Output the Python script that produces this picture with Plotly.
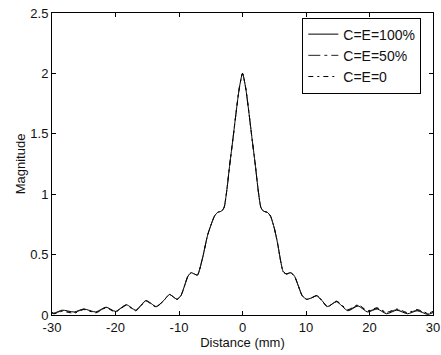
import plotly.graph_objects as go

# Distance (mm)
distance = [-30, -29.7, -28.4, -26.5, -25.0, -23.1, -21.5, -20.0, -18.3, -16.8, -15.2, -13.6,
            -12.4, -11.5, -10.9, -10.3, -9.7, -9.2, -8.6, -8.1, -7.6, -7.1, -6.3, -5.5, -5.0,
            -4.4, -3.9, -3.3, -2.9, -2.5, -2.0, -1.5, -1.0, -0.5, 0.0,
            0.5, 1.0, 1.5, 2.0, 2.5, 2.9, 3.3, 3.9, 4.4, 5.0, 5.5, 6.0, 6.4, 6.9, 7.6, 8.2,
            8.8, 9.4, 10.1, 10.8, 11.7, 12.5, 13.4, 14.8, 16.6, 18.2, 19.7, 21.2, 22.7, 24.3,
            26.0, 27.5, 29.2, 30.0]

mag_100 = [0.02, 0.015, 0.04, 0.025, 0.05, 0.025, 0.065, 0.03, 0.085, 0.04, 0.12, 0.07,
           0.12, 0.17, 0.15, 0.13, 0.16, 0.23, 0.32, 0.35, 0.34, 0.33, 0.47, 0.66, 0.74,
           0.82, 0.85, 0.86, 0.89, 1.02, 1.25, 1.46, 1.68, 1.88, 2.0,
           1.88, 1.68, 1.46, 1.25, 1.02, 0.89, 0.86, 0.85, 0.82, 0.72, 0.6, 0.45, 0.36, 0.34, 0.35, 0.32,
           0.24, 0.16, 0.13, 0.14, 0.16, 0.12, 0.07, 0.11, 0.035, 0.075, 0.025, 0.05, 0.01, 0.04,
           0.01, 0.035, 0.005, 0.02]

mag_50 = [0.02, 0.012, 0.035, 0.02, 0.048, 0.02, 0.062, 0.028, 0.083, 0.038, 0.118, 0.068,
          0.12, 0.17, 0.15, 0.13, 0.16, 0.23, 0.32, 0.35, 0.34, 0.33, 0.47, 0.66, 0.74,
          0.82, 0.85, 0.86, 0.89, 1.02, 1.25, 1.46, 1.68, 1.88, 2.0,
          1.88, 1.68, 1.46, 1.25, 1.02, 0.89, 0.86, 0.85, 0.82, 0.72, 0.6, 0.45, 0.36, 0.34, 0.35, 0.32,
          0.24, 0.16, 0.13, 0.14, 0.16, 0.12, 0.068, 0.112, 0.04, 0.08, 0.03, 0.055, 0.018, 0.045,
          0.015, 0.04, 0.01, 0.025]

mag_0 = [0.018, 0.01, 0.03, 0.015, 0.045, 0.018, 0.06, 0.025, 0.08, 0.035, 0.115, 0.066,
         0.12, 0.17, 0.15, 0.13, 0.16, 0.23, 0.32, 0.35, 0.34, 0.33, 0.47, 0.66, 0.74,
         0.82, 0.85, 0.86, 0.89, 1.02, 1.25, 1.46, 1.68, 1.88, 2.0,
         1.88, 1.68, 1.46, 1.25, 1.02, 0.89, 0.86, 0.85, 0.82, 0.72, 0.6, 0.45, 0.36, 0.34, 0.35, 0.32,
         0.24, 0.16, 0.13, 0.14, 0.16, 0.12, 0.066, 0.115, 0.045, 0.085, 0.035, 0.06, 0.022, 0.05,
         0.02, 0.045, 0.015, 0.03]

series_names = ["C=E=100%", "C=E=50%", "C=E=0"]
x_ticks = [-30, -20, -10, 0, 10, 20, 30]
y_ticks = [0, 0.5, 1, 1.5, 2, 2.5]
y_tick_text = ["0", "0.5", "1", "1.5", "2", "2.5"]

dashes = ["solid", "12px,4px,3px,4px", "5px,4px,2px,4px"]
colors = ["#000000", "#222222", "#000000"]

fig = go.Figure()
for name, ys, dash, col in zip(series_names, [mag_100, mag_50, mag_0], dashes, colors):
    fig.add_trace(go.Scatter(x=distance, y=ys, mode="lines", name=name,
                             line=dict(color=col, width=1, dash=dash, shape="spline", smoothing=0.6)))

font = dict(family="Liberation Sans, Arial, sans-serif", size=13, color="#111111")
axis_common = dict(showgrid=False, zeroline=False, showline=True, linecolor="black", linewidth=1,
                   mirror="ticks", ticks="inside", ticklen=4, tickcolor="black", tickfont=font,
                   automargin=False)

fig.update_layout(
    width=441, height=355,
    margin=dict(l=52, r=8, t=13, b=40),
    paper_bgcolor="white", plot_bgcolor="white",
    font=font,
    showlegend=True,
    legend=dict(x=0.657, y=0.985, xanchor="left", yanchor="top",
                bgcolor="white", bordercolor="black", borderwidth=1,
                font=dict(family="Liberation Sans, Arial, sans-serif", size=14, color="#111111"),
                tracegroupgap=0, itemwidth=30),
    xaxis=dict(range=[-30, 30], tickvals=x_ticks, ticktext=[str(v) for v in x_ticks],
               title=dict(text="Distance (mm)", font=font, standoff=3), **axis_common),
    yaxis=dict(range=[0, 2.5], tickvals=y_ticks, ticktext=y_tick_text,
               title=dict(text="Magnitude", font=font, standoff=1), **axis_common),
)

fig.write_html("out.html", config={"displayModeBar": False},
               post_script="document.body.style.margin='0';")
